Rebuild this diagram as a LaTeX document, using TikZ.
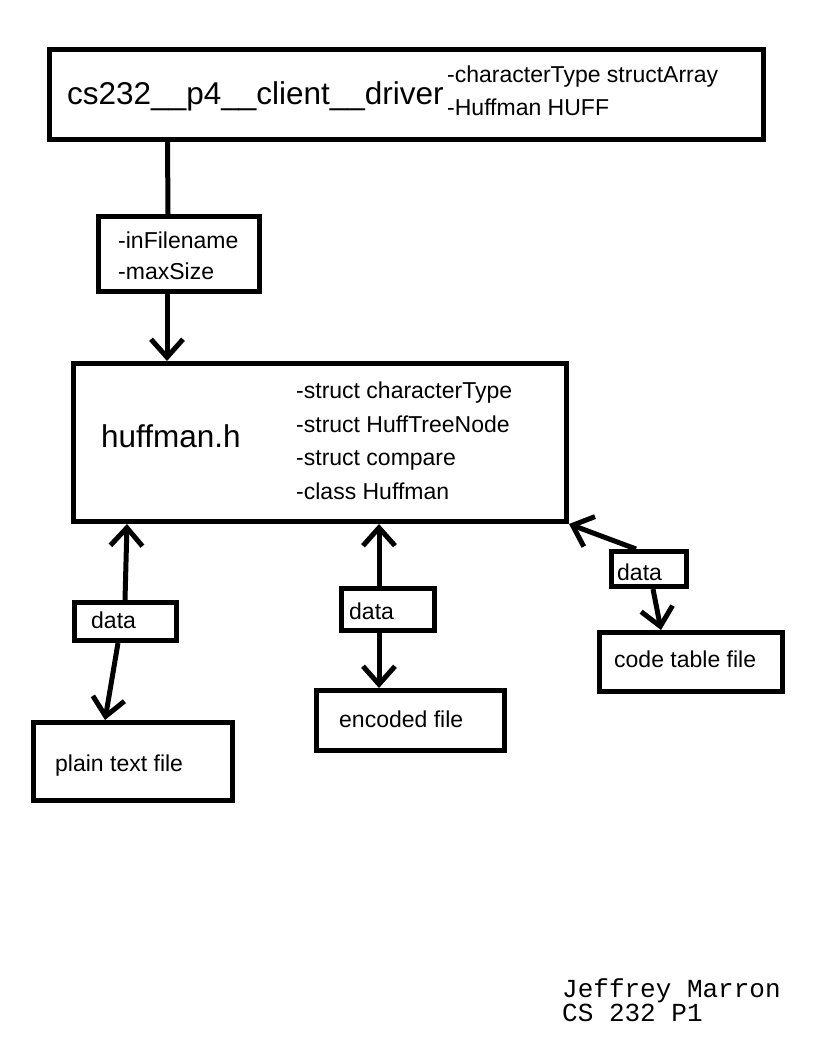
\documentclass[tikz,border=0pt]{standalone}
\usepackage{fontspec}
\setmainfont{Liberation Sans}
\newfontfamily\sigfont{Liberation Mono}
\usetikzlibrary{arrows.meta}
\begin{document}
\begin{tikzpicture}[x=1pt,y=-1pt,
  box/.style={draw=black,line width=5pt,rectangle,inner sep=0pt,fill=white},
  txt/.style={anchor=mid west,inner sep=0pt,yshift=-5.5pt,font=\fontsize{23}{27}\selectfont},
  bigtxt/.style={anchor=mid west,inner sep=0pt,yshift=-7pt,font=\fontsize{31.5}{36}\selectfont},
  sig/.style={anchor=mid west,inner sep=0pt,yshift=-6pt,font=\sigfont\fontsize{26}{28}\selectfont},
  conn/.style={line width=5pt,draw=black},
  arr/.style={conn,-{Straight Barb[length=18pt,width=32pt,line width=5pt]}}]
\useasboundingbox[fill=white] (0,0) rectangle (816,1056);
% boxes
\node[box,minimum width=714pt,minimum height=90pt] (top) at (406.5,94.5) {};
\node[box,minimum width=161pt,minimum height=75pt] (small) at (179,254) {};
\node[box,minimum width=493pt,minimum height=158pt] (huff) at (320,442.5) {};
\node[box,minimum width=102pt,minimum height=38pt] (d1) at (125.5,621.5) {};
\node[box,minimum width=199pt,minimum height=78pt] (plain) at (133,761.5) {};
\node[box,minimum width=93pt,minimum height=42pt] (d2) at (388,609.5) {};
\node[box,minimum width=188pt,minimum height=60pt] (enc) at (410.5,720.5) {};
\node[box,minimum width=75pt,minimum height=35pt] (d3) at (649,569) {};
\node[box,minimum width=183pt,minimum height=59pt] (code) at (691,662) {};
% texts
\node[bigtxt] (t1) at (67,95) {cs232\_\_p4\_\_client\_\_driver};
\node[txt] (t2) at (447,74) {-characterType structArray};
\node[txt] (t3) at (447,107) {-Huffman HUFF};
\node[txt] (s1) at (118,240) {-inFilename};
\node[txt] (s2) at (118,271) {-maxSize};
\node[bigtxt] (h1) at (101,438) {huffman.h};
\node[txt] (h2) at (296,390) {-struct characterType};
\node[txt] (h3) at (296,424) {-struct HuffTreeNode};
\node[txt] (h4) at (296,457) {-struct compare};
\node[txt] (h5) at (296,491) {-class Huffman};
\node[txt] (dt1) at (91,620) {data};
\node[txt] (dt2) at (349,611) {data};
\node[txt] (dt3) at (617,572) {data};
\node[txt] (p1) at (55,763) {plain text file};
\node[txt] (e1) at (339,719) {encoded file};
\node[txt] (c1) at (614,659) {code table file};
\node[sig] (g1) at (562,989) {Jeffrey Marron};
\node[sig] (g2) at (562,1013) {CS 232 P1};
% connectors
\draw[conn] ([xshift=-239pt]top.south) -- ([xshift=-11pt]small.north);
\draw[arr] ([xshift=-12pt]small.south) -- ([xshift=-153pt]huff.north);
\draw[arr] ([xshift=-0.5pt]d1.north) -- ([xshift=-193pt]huff.south);
\draw[arr] ([xshift=-7.5pt]d1.south) -- ([xshift=-28pt]plain.north);
\draw[arr] ([xshift=-9pt]d2.north) -- ([xshift=59pt]huff.south);
\draw[arr] ([xshift=-9pt]d2.south) -- ([xshift=-31.5pt]enc.north);
\draw[arr] ([xshift=-13pt]d3.north) -- (huff.south east);
\draw[arr] ([xshift=4pt]d3.south) -- ([xshift=-30pt]code.north);
\end{tikzpicture}
\end{document}
